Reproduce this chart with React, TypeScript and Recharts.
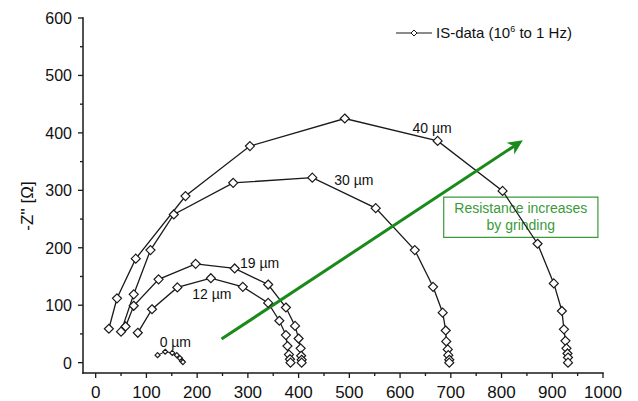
import React from "react";
import { LineChart, Line, XAxis, YAxis, ReferenceLine, ReferenceArea, ReferenceDot } from "recharts";

// Nyquist data, Z' (x) and -Z'' (y) in ohm
const um0 = [
    { x: 122, y: 13 }, { x: 137, y: 19 }, { x: 151, y: 17 }, { x: 160, y: 13 },
    { x: 166, y: 8 }, { x: 170, y: 3 }, { x: 172, y: 1 },
];
const um12 = [
    { x: 83, y: 52 }, { x: 111, y: 93 }, { x: 161, y: 131 }, { x: 227, y: 147 },
    { x: 290, y: 132 }, { x: 340, y: 104 }, { x: 362, y: 73 }, { x: 375, y: 48 },
    { x: 378, y: 29 }, { x: 381, y: 14 }, { x: 383, y: 6 }, { x: 384, y: 0 },
];
const um19 = [
    { x: 59, y: 63 }, { x: 75, y: 99 }, { x: 124, y: 145 }, { x: 197, y: 172 },
    { x: 274, y: 164 }, { x: 340, y: 136 }, { x: 375, y: 96 }, { x: 393, y: 64 },
    { x: 400, y: 42 }, { x: 404, y: 25 }, { x: 405, y: 12 }, { x: 406, y: 5 }, { x: 406, y: 0 },
];
const um30 = [
    { x: 50, y: 54 }, { x: 75, y: 119 }, { x: 108, y: 196 }, { x: 154, y: 258 },
    { x: 271, y: 313 }, { x: 427, y: 322 }, { x: 552, y: 269 }, { x: 629, y: 196 },
    { x: 665, y: 132 }, { x: 684, y: 87 }, { x: 690, y: 56 }, { x: 691, y: 37 },
    { x: 694, y: 23 }, { x: 695, y: 13 }, { x: 697, y: 5 }, { x: 697, y: 0 },
];
const um40 = [
    { x: 26, y: 59 }, { x: 42, y: 112 }, { x: 79, y: 181 }, { x: 177, y: 290 },
    { x: 304, y: 377 }, { x: 491, y: 425 }, { x: 674, y: 386 }, { x: 802, y: 299 },
    { x: 871, y: 207 }, { x: 903, y: 138 }, { x: 919, y: 90 }, { x: 923, y: 58 },
    { x: 926, y: 38 }, { x: 928, y: 25 }, { x: 930, y: 16 }, { x: 931, y: 9 }, { x: 931, y: 0 },
];

// curve labels: text, x, y (data coords)
const curveLabels: [string, number, number][] = [
    ["40 µm", 663, 408],
    ["30 µm", 509, 318],
    ["19 µm", 323, 173],
    ["12 µm", 229, 119],
    ["0 µm", 157, 36],
];

const xTicks = [0, 50, 100, 150, 200, 250, 300, 350, 400, 450, 500, 550, 600, 650, 700, 750, 800, 850, 900, 950, 1000];
const yTicks = [0, 50, 100, 150, 200, 250, 300, 350, 400, 450, 500, 550, 600];
const xDomain = [-25, 1000];
const yDomain = [-18, 600];

const arrowFrom = { x: 248, y: 41 };
const arrowTo = { x: 842, y: 387 };
const boxX = [686, 990];
const boxY = [218, 288];

const W = 638;
const H = 401;
const MARGIN = { top: 18, right: 35, bottom: 4, left: 0 };
const Y_AXIS_W = 83;
const X_AXIS_H = 24;

const INK = "#1a1a1a";
const GREEN = "#1a8a1a";
const FONT = "'Liberation Sans', Arial, sans-serif";

// plot box, same as recharts offset from the margins/axis sizes above
const plotLeft = MARGIN.left + Y_AXIS_W;
const plotTop = MARGIN.top;
const plotW = W - plotLeft - MARGIN.right;
const plotH = H - MARGIN.top - MARGIN.bottom - X_AXIS_H;
const xPx = (v: number) => plotLeft + ((v - xDomain[0]) / (xDomain[1] - xDomain[0])) * plotW;
const yPx = (v: number) => plotTop + ((yDomain[1] - v) / (yDomain[1] - yDomain[0])) * plotH;

const diamond = (r: number) => (props: any) => {
    const { cx, cy, index } = props;
    return (
        <polygon
            key={`d-${index}`}
            points={`${cx},${cy - r} ${cx + r},${cy} ${cx},${cy + r} ${cx - r},${cy}`}
            fill="#fff"
            stroke={INK}
            strokeWidth={1.2}
        />
    );
};

// tick labels only; the marks live in the frame overlay
const XTick = (props: any) => {
    const { x, y, payload } = props;
    if (payload.value % 100 !== 0) return <g />;
    return (
        <text x={x} y={y + 17} textAnchor="middle" fontSize={17} fill="#111" fontFamily={FONT}>
            {payload.value}
        </text>
    );
};

const YTick = (props: any) => {
    const { x, y, payload } = props;
    if (payload.value % 100 !== 0) return <g />;
    return (
        <text x={x - 3} y={y + 6} textAnchor="end" fontSize={16} fill="#111" fontFamily={FONT}>
            {payload.value}
        </text>
    );
};

const Arrow = (props: any) => {
    const { x1, y1, x2, y2 } = props;
    const ang = Math.atan2(y2 - y1, x2 - x1);
    const len = 15;
    const w = 7;
    const bx = x2 - len * Math.cos(ang);
    const by = y2 - len * Math.sin(ang);
    const nx = -Math.sin(ang);
    const ny = Math.cos(ang);
    const notchX = x2 - len * 0.7 * Math.cos(ang);
    const notchY = y2 - len * 0.7 * Math.sin(ang);
    return (
        <g>
            <line x1={x1} y1={y1} x2={notchX} y2={notchY} stroke={GREEN} strokeWidth={3} />
            <polygon
                points={`${x2},${y2} ${bx + nx * w},${by + ny * w} ${notchX},${notchY} ${bx - nx * w},${by - ny * w}`}
                fill={GREEN}
            />
        </g>
    );
};

const BoxLabel = (props: any) => {
    const { x, y, width, height } = props.viewBox;
    const cx = x + width / 2;
    return (
        <g fontFamily={FONT} fontSize={14} fill="#3a9a3a">
            <text x={cx} y={y + height / 2 - 4} textAnchor="middle">Resistance increases</text>
            <text x={cx} y={y + height / 2 + 13} textAnchor="middle">by grinding</text>
        </g>
    );
};

const YLabel = () => (
    <text
        x={27}
        y={206}
        transform="rotate(-90 27 206)"
        textAnchor="middle"
        dominantBaseline="central"
        fontSize={17}
        fill="#111"
        fontFamily={FONT}
    >
        -Z'' [Ω]
    </text>
);

// axis lines + major/minor tick marks
function Frame() {
    const x0 = xPx(xDomain[0]);
    const x1 = xPx(xDomain[1]);
    const y0 = yPx(yDomain[0]);
    const y1 = yPx(yDomain[1]);
    return (
        <svg width={W} height={H} style={{ position: "absolute", left: 0, top: 0, pointerEvents: "none" }}>
            <rect x={x0 - 0.75} y={y0 - 0.75} width={x1 - x0 + 1.5} height={1.5} fill={INK} />
            <rect x={x0 - 0.75} y={y1 - 0.75} width={1.5} height={y0 - y1 + 1.5} fill={INK} />
            {xTicks.map((t) => (
                <rect key={`xt${t}`} x={xPx(t) - 0.65} y={y0} width={1.3} height={t % 100 === 0 ? 5 : 3} fill={INK} />
            ))}
            {yTicks.map((t) => {
                const len = t % 100 === 0 ? 5 : 3;
                return <rect key={`yt${t}`} x={x0 - len} y={yPx(t) - 0.65} width={len} height={1.3} fill={INK} />;
            })}
        </svg>
    );
}

export default function App() {
    return (
        <div style={{ position: "absolute", left: 0, top: 0, width: W, height: H, fontFamily: FONT }}>
            <LineChart width={W} height={H} margin={MARGIN}>
                <XAxis
                    type="number"
                    dataKey="x"
                    domain={xDomain}
                    ticks={xTicks}
                    height={X_AXIS_H}
                    axisLine={false}
                    tickLine={false}
                    tick={<XTick />}
                    interval={0}
                />
                <YAxis
                    type="number"
                    dataKey="y"
                    domain={yDomain}
                    ticks={yTicks}
                    width={Y_AXIS_W}
                    axisLine={false}
                    tickLine={false}
                    tick={<YTick />}
                    interval={0}
                    label={<YLabel />}
                />
                <Line data={um0} dataKey="y" stroke={INK} strokeWidth={1} dot={diamond(2.5)} isAnimationActive={false} />
                <Line data={um12} dataKey="y" stroke={INK} strokeWidth={1.3} dot={diamond(4.5)} isAnimationActive={false} />
                <Line data={um19} dataKey="y" stroke={INK} strokeWidth={1.3} dot={diamond(4.5)} isAnimationActive={false} />
                <Line data={um30} dataKey="y" stroke={INK} strokeWidth={1.3} dot={diamond(4.5)} isAnimationActive={false} />
                <Line data={um40} dataKey="y" stroke={INK} strokeWidth={1.3} dot={diamond(4.5)} isAnimationActive={false} />
                <ReferenceArea
                    x1={boxX[0]}
                    x2={boxX[1]}
                    y1={boxY[0]}
                    y2={boxY[1]}
                    fill="#fff"
                    fillOpacity={1}
                    stroke="#3a9a3a"
                    strokeWidth={1.2}
                    label={<BoxLabel />}
                />
                <ReferenceLine segment={[arrowFrom, arrowTo]} shape={<Arrow />} />
                {curveLabels.map(([t, x, y]) => (
                    <ReferenceDot
                        key={t}
                        x={x}
                        y={y}
                        r={0}
                        fill="none"
                        stroke="none"
                        label={{ value: t, position: "center", fontSize: 14, fill: "#111", fontFamily: FONT }}
                    />
                ))}
            </LineChart>
            <Frame />
            <div
                style={{
                    position: "absolute",
                    left: 396,
                    top: 24,
                    display: "flex",
                    alignItems: "center",
                    fontSize: 15,
                    color: "#111",
                    whiteSpace: "nowrap",
                }}
            >
                <svg width={36} height={12} style={{ marginRight: 4 }}>
                    <line x1={0} x2={36} y1={6} y2={6} stroke={INK} strokeWidth={1.2} />
                    <polygon points="18,3 21,6 18,9 15,6" fill="#fff" stroke={INK} strokeWidth={1} />
                </svg>
                <span>
                    IS-data (10<sup style={{ fontSize: 9 }}>6</sup> to 1 Hz)
                </span>
            </div>
        </div>
    );
}
